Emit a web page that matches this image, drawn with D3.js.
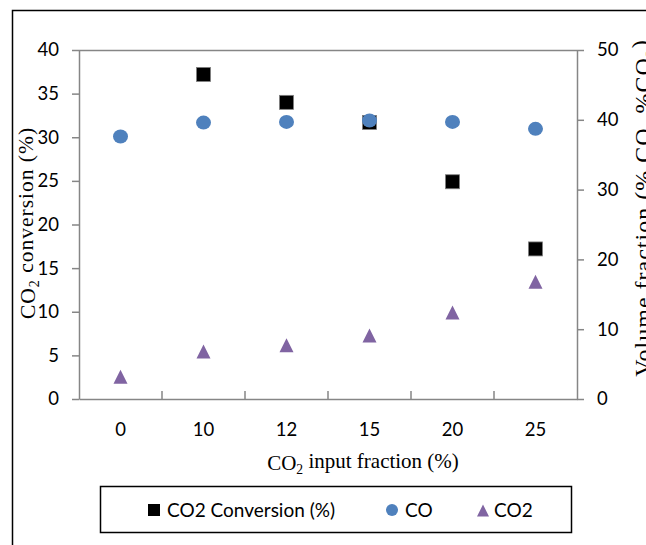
<!DOCTYPE html>
<html>
<head>
<meta charset="utf-8">
<script src="https://cdn.jsdelivr.net/npm/d3@7"></script>
<style>
  html, body { margin: 0; padding: 0; background: #fff; }
  svg { display: block; }
  .tick text { font-family: Lato, "Open Sans", sans-serif; font-size: 18.5px; fill: #000; }
  .title { font-family: "Liberation Serif", "Times New Roman", serif; font-size: 21px; fill: #000; }
  .legend text { font-family: Lato, "Open Sans", sans-serif; font-size: 19px; fill: #000; }
</style>
</head>
<body>
<svg id="chart" width="646" height="545"></svg>
<script>
// CO2 input fraction categories (%)
const categories = ["0", "10", "12", "15", "20", "25"];
// CO2 conversion (%), left axis; no conversion at 0 % input
const conversion = [null, 37.2, 34.0, 31.7, 24.9, 17.2];
// Outlet volume fractions (%), right axis
const coFraction = [37.6, 39.6, 39.7, 39.9, 39.7, 38.7];
const co2Fraction = [3.2, 6.8, 7.7, 9.1, 12.4, 16.8];
// Axis ticks
const leftTicks = [0, 5, 10, 15, 20, 25, 30, 35, 40];
const rightTicks = [0, 10, 20, 30, 40, 50];

const W = 646, H = 545;
const plot = { left: 79, right: 577, top: 50, bottom: 399 };
const axisGrey = "#868686";
const blue = "#4F81BD", purple = "#8064A2";

const svg = d3.select("#chart");
svg.append("rect").attr("width", W).attr("height", H).attr("fill", "#fff");

// outer chart frame (extends past the right and bottom edges)
svg.append("path")
  .attr("d", `M12.5,${H + 5} V10.5 H${W + 5}`)
  .attr("fill", "none").attr("stroke", "#000").attr("stroke-width", 1.5);

const x = d3.scaleBand().domain(categories).range([plot.left, plot.right]);
const yL = d3.scaleLinear().domain([0, 40]).range([plot.bottom, plot.top]);
const yR = d3.scaleLinear().domain([0, 50]).range([plot.bottom, plot.top]);

// plot area top edge
svg.append("line")
  .attr("x1", plot.left).attr("x2", plot.right)
  .attr("y1", plot.top + 0.5).attr("y2", plot.top + 0.5)
  .attr("stroke", axisGrey).attr("stroke-width", 1.5);

// left axis
const gL = svg.append("g").attr("transform", `translate(${plot.left},0)`)
  .call(d3.axisLeft(yL).tickValues(leftTicks).tickSize(7).tickPadding(13).tickSizeOuter(0));
// right axis
const gR = svg.append("g").attr("transform", `translate(${plot.right},0)`)
  .call(d3.axisRight(yR).tickValues(rightTicks).tickSize(7).tickPadding(13).tickSizeOuter(0));
// bottom axis: labels at category centres, tick marks on category boundaries
const gB = svg.append("g").attr("transform", `translate(0,${plot.bottom})`)
  .call(d3.axisBottom(x).tickSize(0).tickPadding(31));
gB.selectAll(".tick text").attr("dy", "0.35em");

const boundaries = categories.slice(1).map(c => x(c));
gB.selectAll("line.boundary").data(boundaries).join("line")
  .attr("class", "boundary")
  .attr("x1", d => d).attr("x2", d => d)
  .attr("y1", 0).attr("y2", -8)
  .attr("stroke", axisGrey).attr("stroke-width", 1.5);

[gL, gR, gB].forEach(g => {
  g.selectAll(".domain").attr("stroke", axisGrey).attr("stroke-width", 1.5);
  g.selectAll(".tick line").attr("stroke", axisGrey).attr("stroke-width", 1.5);
});

const cx = c => x(c) + x.bandwidth() / 2;

// CO2 conversion squares
svg.append("g").selectAll("rect")
  .data(categories.map((c, i) => ({ c, v: conversion[i] })).filter(d => d.v !== null))
  .join("rect")
  .attr("x", d => cx(d.c) - 7).attr("y", d => yL(d.v) - 7)
  .attr("width", 14).attr("height", 14)
  .attr("fill", "#000").attr("stroke", "#7f7f7f").attr("stroke-width", 0.8);

// CO circles
svg.append("g").selectAll("ellipse")
  .data(categories.map((c, i) => ({ c, v: coFraction[i] })))
  .join("ellipse")
  .attr("cx", d => cx(d.c)).attr("cy", d => yR(d.v))
  .attr("rx", 7.5).attr("ry", 7)
  .attr("fill", blue);

// CO2 triangles
const tri = (px, py, s) => `M${px},${py - s / 2} L${px + s / 2},${py + s / 2} L${px - s / 2},${py + s / 2} Z`;
svg.append("g").selectAll("path")
  .data(categories.map((c, i) => ({ c, v: co2Fraction[i] })))
  .join("path")
  .attr("d", d => tri(cx(d.c), yR(d.v), 14))
  .attr("fill", purple);

// axis titles with subscript 2
function subTitle(sel, before, after) {
  sel.append("tspan").text(before);
  sel.append("tspan").attr("font-size", "0.65em").attr("dy", "0.3em").text("2");
  sel.append("tspan").attr("dy", "-0.3em").text(after);
}
subTitle(svg.append("text").attr("class", "title")
  .attr("text-anchor", "middle")
  .style("font-size", "21.5px").style("letter-spacing", "1px")
  .attr("transform", `translate(35,223) rotate(-90)`),
  "CO", " conversion (%)");

subTitle(svg.append("text").attr("class", "title")
  .attr("text-anchor", "middle")
  .attr("x", 363).attr("y", 470),
  "CO", " input fraction (%)");

const rt = svg.append("text").attr("class", "title")
  .attr("text-anchor", "middle")
  .style("font-size", "24px").style("letter-spacing", "1px")
  .attr("transform", `translate(651,208) rotate(-90)`);
subTitle(rt, "Volume fraction (% CO, %CO", ")");

// legend
const lg = svg.append("g").attr("class", "legend");
lg.append("rect").attr("x", 100.5).attr("y", 486.5).attr("width", 471).attr("height", 46)
  .attr("fill", "#fff").attr("stroke", "#000").attr("stroke-width", 1.5);
const ly = 510;
lg.append("rect").attr("x", 148).attr("y", ly - 6).attr("width", 12).attr("height", 12).attr("fill", "#000");
lg.append("text").attr("x", 167).attr("y", ly + 7).text("CO2 Conversion (%)");
lg.append("circle").attr("cx", 392).attr("cy", ly).attr("r", 6).attr("fill", blue);
lg.append("text").attr("x", 405).attr("y", ly + 7).text("CO");
lg.append("path").attr("d", tri(483, ly + 0.5, 12)).attr("fill", purple);
lg.append("text").attr("x", 494).attr("y", ly + 7).text("CO2");
</script>
</body>
</html>
